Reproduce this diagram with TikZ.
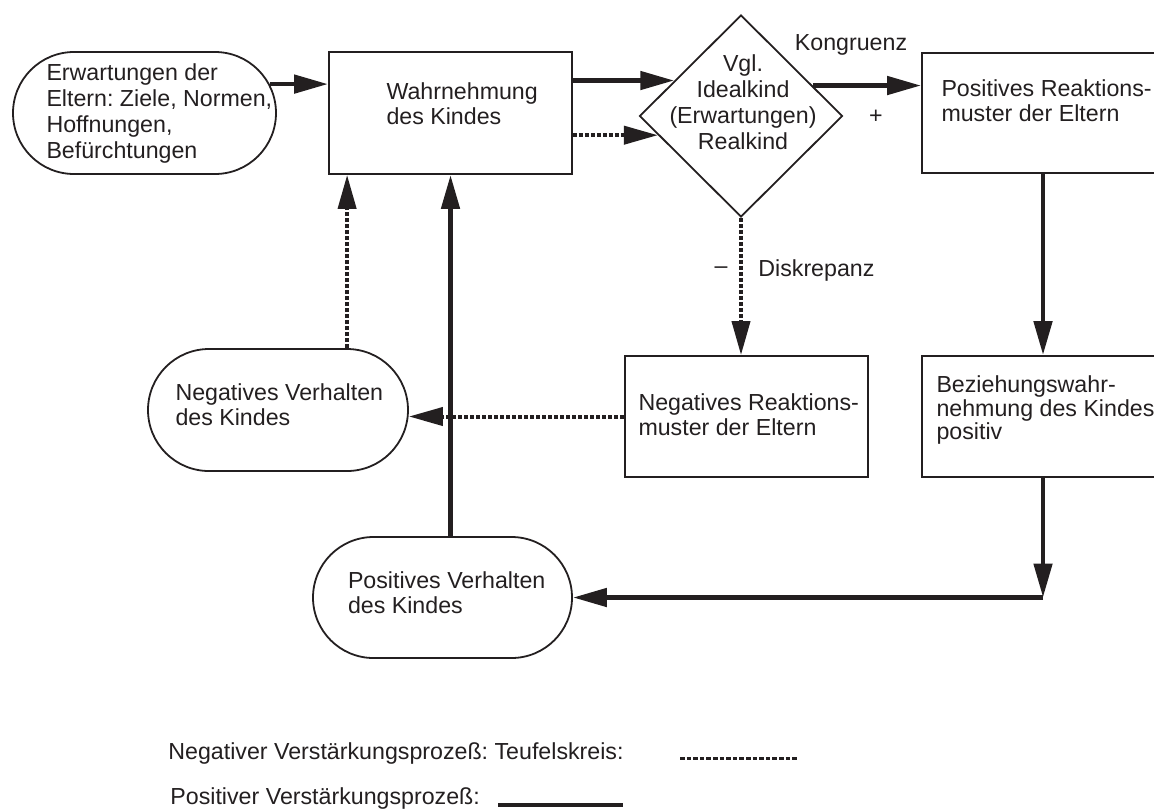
\documentclass[tikz,border=0pt]{standalone}
\usepackage{fontspec}
\setmainfont{Liberation Sans}
\usetikzlibrary{arrows.meta,shapes.geometric,shapes.misc}
\definecolor{ink}{RGB}{35,31,32}
\frenchspacing
\tikzset{
  kasten/.style={draw=ink, line width=0.9pt, rectangle, inner sep=0pt},
  rund/.style={draw=ink, line width=0.9pt, rounded rectangle, inner sep=0pt},
  raute/.style={draw=ink, line width=0.9pt, diamond, inner sep=0pt},
  txt/.style={text=ink, inner sep=0pt, align=left, font=\fontsize{11.6}{12.5}\selectfont},
  posarr/.style={draw=ink, line width=2.4pt, -{Triangle[length=17pt,width=9pt]}},
  negarr/.style={draw=ink, line width=2pt, dash pattern=on 2pt off 1pt, -{Triangle[length=17pt,width=9pt]}},
}
\begin{document}
\begin{tikzpicture}[x=0.5pt,y=-0.5pt]
        \useasboundingbox (0,0) rectangle (1154,809);
        \clip (0,0) rectangle (1154,809);

        % Knoten (Koordinaten in Pixeln)
        \node[rund, minimum width=131.5pt, minimum height=61pt,
          label={[txt, anchor=west, xshift=17pt, font=\fontsize{11.6}{13}\selectfont]west:{Erwartungen der\\Eltern: Ziele, Normen,\\Hoffnungen,\\Befürchtungen}}] (erw) at (144.5,113) {};
        \node[kasten, minimum width=121.5pt, minimum height=61pt,
          label={[txt, anchor=west, xshift=29pt, yshift=4.75pt]west:{Wahrnehmung\\des Kindes}}] (wahr) at (450.5,113) {};
        \node[raute, minimum width=101.5pt, minimum height=101pt,
          label={[txt, align=center, xshift=1pt, yshift=7pt, font=\fontsize{11.6}{13}\selectfont]center:{Vgl.\\Idealkind\\(Erwartungen)\\Realkind}}] (vgl) at (741,116) {};
        \node[kasten, minimum width=121pt, minimum height=60pt,
          label={[txt, anchor=west, xshift=10pt, yshift=6pt]west:{Positives Reaktions-\\muster der Eltern}}] (preak) at (1043,113) {};
        \node[kasten, minimum width=121pt, minimum height=60.5pt,
          label={[txt, anchor=west, xshift=7.5pt, yshift=3.25pt, font=\fontsize{11.6}{11.7}\selectfont]west:{Beziehungswahr-\\nehmung des Kindes\\positiv}}] (bezw) at (1043,416.5) {};
        \node[kasten, minimum width=121.5pt, minimum height=60.5pt,
          label={[txt, anchor=west, xshift=7pt, yshift=1pt]west:{Negatives Reaktions-\\muster der Eltern}}] (nreak) at (746.5,416.5) {};
        \node[rund, minimum width=130pt, minimum height=61pt,
          label={[txt, anchor=west, xshift=14pt, yshift=2.5pt]west:{Negatives Verhalten\\des Kindes}}] (negv) at (278,410) {};
        \node[rund, minimum width=129.5pt, minimum height=60.5pt,
          label={[txt, anchor=west, xshift=17.75pt, yshift=2.5pt]west:{Positives Verhalten\\des Kindes}}] (posv) at (442.5,597.5) {};

        \coordinate (knick) at (bezw.south |- posv.east);
        \coordinate (wneg) at ([xshift=9.5pt]wahr.south west);

        % positiver Kreis
        \draw[posarr] (erw.13) -- (erw.13 -| wahr.west);
        \draw[posarr] (vgl.152 -| wahr.east) -- (vgl.152);
        \draw[posarr] (vgl.23) -- (vgl.23 -| preak.west);
        \draw[posarr] (preak.south) -- (bezw.north);
        \draw[posarr] (bezw.south) -- (knick);
        \draw[posarr] (knick) -- (posv.east);
        \draw[posarr] (wahr.south |- posv.north) -- (wahr.south);

        % negativer Kreis
        \draw[negarr] (vgl.193 -| wahr.east) -- (vgl.193);
        \draw[negarr] (vgl.south) -- (vgl.south |- nreak.north);
        \draw[negarr] (nreak.west) -- (nreak.west -| negv.east);
        \draw[negarr] (wneg |- negv.north) -- (wneg);

        \node[txt] (kongr) at (851,45) {Kongruenz};
        \node[txt] (plus) at (876,117) {+};
        \node[txt] (minus) at (721,270) {–};
        \node[txt, anchor=west] (diskr) at (758,270) {Diskrepanz};

        % Legende
        \node[txt, anchor=west] (legneg) at (168,753) {Negativer Verstärkungsprozeß: Teufelskreis:};
        \node[txt, anchor=west] (legpos) at (170,798) {Positiver Verstärkungsprozeß:};
        \draw[ink, line width=1.5pt, dash pattern=on 2.3pt off 1pt] (680,758) -- (798,758);
        \draw[ink, line width=2.2pt] (498,805) -- (623,805);
\end{tikzpicture}
\end{document}
